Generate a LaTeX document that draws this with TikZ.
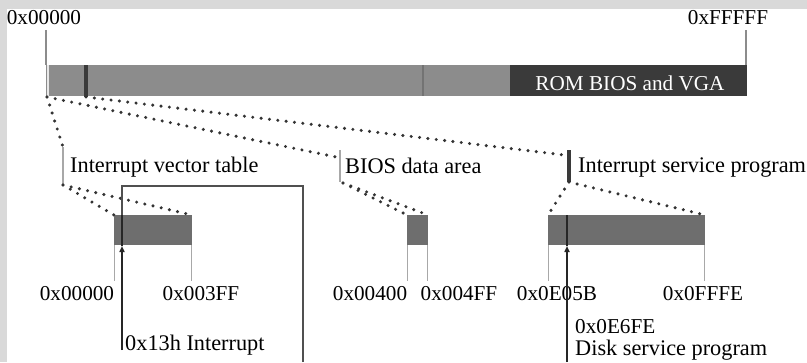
\documentclass[tikz,border=0pt]{standalone}
\usepackage{fontspec}
\setmainfont{Liberation Serif}
\usetikzlibrary{arrows.meta}
\definecolor{bggray}{HTML}{D9D9D9}
\definecolor{barmid}{HTML}{8C8C8C}
\definecolor{romdark}{HTML}{3A3A3A}
\definecolor{subbar}{HTML}{6E6E6E}
\definecolor{dotc}{HTML}{333333}
\definecolor{tickc}{HTML}{A8A8A8}
\definecolor{rectc}{HTML}{505050}
\tikzset{
  lbl/.style={font=\fontsize{22.3}{26}\selectfont, inner sep=0pt, text=black},
  hex/.style={font=\fontsize{21.2}{25}\selectfont, inner sep=0pt, text=black},
  barbox/.style={inner sep=0pt, outer sep=0pt, anchor=north west},
  dots/.style={dotc, line width=3.4pt, line cap=round, dash pattern=on 0pt off 8.4pt},
  tickline/.style={tickc, line width=1.1pt},
  darkmark/.style={romdark, line width=4pt},
  linkline/.style={rectc, line width=1.5pt},
  ptr/.style={black!85, line width=1.8pt},
  ptrarrow/.style={black!85, line width=1.5pt, -{Triangle[length=6pt,width=5pt]}}
}
\begin{document}
\begin{tikzpicture}[x=1pt,y=-1pt]
\useasboundingbox (0,0) rectangle (807,362);
\fill[bggray] (0,0) rectangle (807,362);
\fill[white] (7,9) rectangle (807,362);

% main memory bar
\node[barbox, fill=barmid, minimum width=701pt, minimum height=31pt] (mem) at (46,65) {};
\node[barbox, fill=romdark, minimum width=237pt, minimum height=31pt] (rom) at (510,65) {};
\node[hex, text=white, anchor=base] (romtxt) at (630,90) {ROM BIOS and VGA};
\draw[white!80!barmid, line width=2pt] (47.5,65) -- (47.5,96);
\coordinate (ivtm) at (86,65);
\coordinate (ivtmb) at (86,97);
\draw[darkmark] (ivtm) -- (ivtmb);
\draw[black!55, line width=1.2pt] (423,65) -- (423,96);

% top labels and ticks
\node[hex, anchor=base] (lo) at (44,24) {0x00000};
\node[hex, anchor=base] (hi) at (728,24) {0xFFFFF};
\coordinate (lot) at (46,30);
\coordinate (lob) at (46,65);
\coordinate (hit) at (746,30);
\coordinate (hib) at (746,65);
\draw[black!45, line width=1.1pt] (lot) -- (lob);
\draw[black!45, line width=1.1pt] (hit) -- (hib);
\coordinate (orig) at (47,97);

% region ticks
\coordinate (ivt1) at (63,147);
\coordinate (ivt2) at (63,185);
\coordinate (bda1) at (340,150);
\coordinate (bda2) at (340,182);
\coordinate (isp1) at (569,150);
\coordinate (isp2) at (569,182);
\draw[tickline] (ivt1) -- (ivt2);
\draw[tickline] (bda1) -- (bda2);
\draw[darkmark] (isp1) -- (isp2);
\node[lbl, anchor=base west] (ivtl) at (70,172) {Interrupt vector table};
\node[lbl, anchor=base west] (bdal) at (345,173) {BIOS data area};
\node[lbl, anchor=base west] (ispl) at (578,172) {Interrupt service program};

% dotted lines from main bar
\draw[dots] (orig) -- (ivt1);
\draw[dots] (orig) -- (336,157);
\draw[dots] (ivtmb) -- (564,155);

% sub bars
\node[barbox, fill=subbar, minimum width=78pt, minimum height=30pt] (ivtb) at (114,215) {};
\node[barbox, fill=subbar, minimum width=21pt, minimum height=30pt] (bdab) at (407,215) {};
\node[barbox, fill=subbar, minimum width=157pt, minimum height=30pt] (ispb) at (548,215) {};

% dotted lines to sub bars
\draw[dots] (ivt2) -- (ivtb.north west);
\draw[dots] (ivt2) -- (ivtb.north east);
\draw[dots] (bda2) ++(3,1) -- (bdab.north west);
\draw[dots] (bda2) ++(3,1) -- (bdab.north east);
\draw[dots] (isp2) -- (ispb.north west);
\draw[dots] (isp2) -- (ispb.north east);

% bottom ticks
\foreach \b/\n in {ivtb/a, bdab/b, ispb/c}{
  \coordinate (\n1) at ([xshift=0.5pt]\b.south west);
  \coordinate (\n2) at ([xshift=-0.5pt]\b.south east);
  \draw[tickline] (\n1) -- ++(0,36);
  \draw[tickline] (\n2) -- ++(0,36);
}
\node[hex, anchor=base] (l1) at (77,300) {0x00000};
\node[hex, anchor=base] (l2) at (201,300) {0x003FF};
\node[hex, anchor=base] (l3) at (370,300) {0x00400};
\node[hex, anchor=base] (l4) at (459,300) {0x004FF};
\node[hex, anchor=base] (l5) at (557,300) {0x0E05B};
\node[hex, anchor=base] (l6) at (703,300) {0x0FFFE};

% 0x13h interrupt link
\coordinate (i13top) at (122,186);
\coordinate (i13in) at (122,215);
\coordinate (i13bar) at (122,246);
\coordinate (i13bot) at (122,350);
\coordinate (rtop) at (303,186);
\coordinate (rbot) at (303,362);
\draw[linkline] (rbot) -- (rtop) -- (i13top) -- (i13in);
\draw[ptr] (i13in) -- (i13bar);
\draw[ptrarrow] (i13bot) -- (i13bar);
\node[lbl, anchor=base west] (i13l) at (125,350) {0x13h Interrupt};

% disk service program
\coordinate (dtop) at (567,215);
\coordinate (dbar) at (567,246);
\coordinate (dbot) at (567,362);
\draw[ptr] (dtop) -- (dbar);
\draw[ptrarrow] (dbot) -- (dbar);
\node[hex, anchor=base west] (dl1) at (575,333) {0x0E6FE};
\node[lbl, anchor=base west] (dl2) at (575,355) {Disk service program};
\end{tikzpicture}
\end{document}
